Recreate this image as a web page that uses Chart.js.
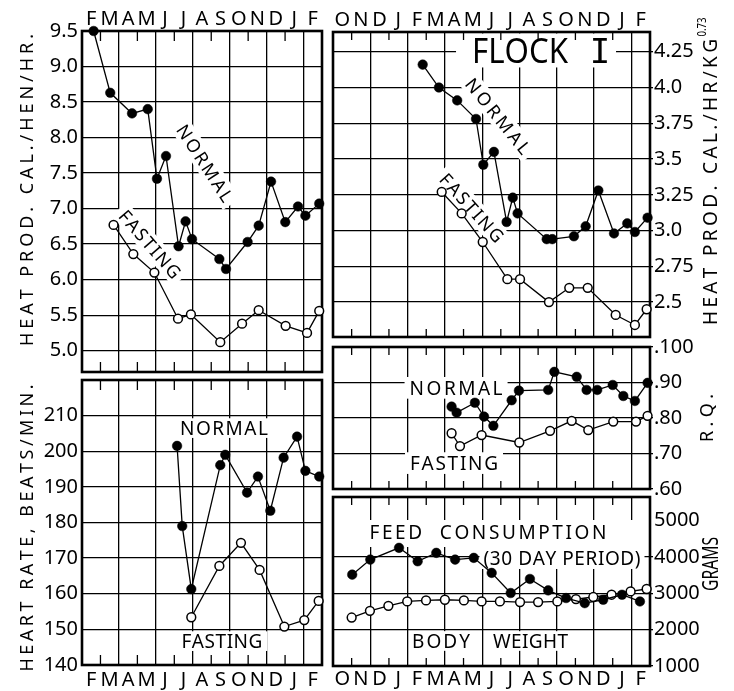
<!DOCTYPE html>
<html>
<head>
<meta charset="utf-8">
<script src="https://cdn.jsdelivr.net/npm/chart.js@4.4.1/dist/chart.umd.min.js"></script>
<style>
  html, body { margin: 0; padding: 0; background: #fff; }
  #wrap { position: relative; width: 734px; height: 691px; overflow: hidden; background: #fff; }
  #wrap canvas { position: absolute; left: 0; top: 0; }
</style>
</head>
<body>
<div id="wrap">
  <canvas id="hpHen" width="734" height="691"></canvas>
  <canvas id="heart" width="734" height="691"></canvas>
  <canvas id="hpKg" width="734" height="691"></canvas>
  <canvas id="rq" width="734" height="691"></canvas>
  <canvas id="feed" width="734" height="691"></canvas>
</div>
<script>
// Month letters along the time axes
const monthsShort = ['F','M','A','M','J','J','A','S','O','N','D','J','F'];
const monthsLong = ['O','N','D','J','F','M','A','M','J','J','A','S','O','N','D','J','F'];

// Heat production, cal/hen/hr  (x = months from the start of February)
const hpHenNormalMonth = [0.63,1.53,2.71,3.56,4.06,4.55,5.23,5.61,5.96,7.44,7.80,8.97,9.57,10.24,11.01,11.70,12.10,12.85];
const hpHenNormal      = [9.50,8.63,8.34,8.40,7.42,7.74,6.47,6.82,6.57,6.29,6.15,6.53,6.76,7.38,6.81,7.03,6.90,7.07];
const hpHenFastingMonth = [1.71,2.78,3.92,5.20,5.90,7.49,8.67,9.57,11.03,12.19,12.85];
const hpHenFasting      = [6.77,6.36,6.10,5.45,5.51,5.12,5.38,5.57,5.35,5.25,5.56];
const hpHenTicks  = [5.0,5.5,6.0,6.5,7.0,7.5,8.0,8.5,9.0,9.5];
const hpHenLabels = ['5.0','5.5','6.0','6.5','7.0','7.5','8.0','8.5','9.0','9.5'];

// Heart rate, beats/min
const heartNormalMonth = [5.15,5.43,5.92,7.49,7.76,8.94,9.53,10.20,10.92,11.65,12.10,12.85];
const heartNormal      = [201.5,179.0,161.3,196.1,199.0,188.4,192.9,183.3,198.2,204.1,194.5,192.9];
const heartFastingMonth = [5.92,7.44,8.61,9.62,10.96,12.04,12.82];
const heartFasting      = [153.4,167.8,174.3,166.7,150.8,152.6,158.0];
const heartTicks  = [140,150,160,170,180,190,200,210];
const heartLabels = ['140','150','160','170','180','190','200','210'];

// Heat production, cal/hr/kg^0.73  (x = months from the start of October)
const hpKgNormalMonth = [4.81,5.68,6.66,7.67,8.06,8.63,9.31,9.64,9.90,11.46,11.76,12.92,13.55,14.23,15.07,15.78,16.19,16.87];
const hpKgNormal      = [4.16,4.00,3.91,3.78,3.46,3.55,3.06,3.23,3.12,2.94,2.94,2.96,3.03,3.28,2.98,3.05,2.99,3.09];
const hpKgFastingMonth = [5.83,6.90,8.03,9.35,10.03,11.58,12.67,13.66,15.16,16.19,16.82];
const hpKgFasting      = [3.27,3.12,2.92,2.66,2.66,2.50,2.60,2.60,2.41,2.34,2.45];
const hpKgTicks  = [2.5,2.75,3.0,3.25,3.5,3.75,4.0,4.25];
const hpKgLabels = ['2.5','2.75','3.0','3.25','3.5','3.75','4.0','4.25'];

// Respiratory quotient
const rqNormalMonth = [6.36,6.63,7.61,8.10,8.60,9.58,9.97,11.54,11.87,13.07,13.60,14.17,15.00,15.57,16.19,16.87];
const rqNormal      = [0.832,0.815,0.843,0.804,0.778,0.850,0.877,0.879,0.930,0.916,0.879,0.879,0.893,0.862,0.848,0.899];
const rqFastingMonth = [6.36,6.81,7.97,9.99,11.64,12.80,13.69,15.03,16.25,16.87];
const rqFasting      = [0.757,0.721,0.752,0.731,0.764,0.792,0.766,0.790,0.790,0.806];
const rqTicks  = [0.6,0.7,0.8,0.9,1.0];
const rqLabels = ['.60','.70','.80','.90','.100'];

// Feed consumption (30 day period) and body weight, grams
const feedMonth = [1.03,2.00,3.54,4.54,5.54,6.55,7.55,8.51,9.53,10.56,11.54,12.50,13.50,14.49,15.50,16.46];
const feedGrams = [3514,3928,4251,3881,4113,3928,3975,3561,3008,3395,3080,2870,2729,2823,2960,2776];
const weightMonth = [1.00,1.98,2.97,3.98,4.99,6.00,7.02,7.97,8.95,10.03,11.00,12.03,13.03,13.96,14.94,15.96,16.82];
const weightGrams = [2334,2519,2657,2776,2804,2823,2804,2776,2776,2760,2760,2776,2842,2898,2961,3052,3119];
const gramTicks  = [1000,2000,3000,4000,5000];
const gramLabels = ['1000','2000','3000','4000','5000'];

const FONT = "'Noto Sans', 'DejaVu Sans', sans-serif";
const PAGE_W = 734, PAGE_H = 691, MONTH_ROW = 26;

// Draws a line of lettering fitted to a given width (spaced out, or condensed when too long),
// optionally on a white patch
function drawSpaced(ctx, text, cx, cy, angle, size, width, o = {}) {
  ctx.save();
  ctx.translate(cx, cy);
  ctx.rotate((angle || 0) * Math.PI / 180);
  ctx.font = `400 ${size}px ${o.family || FONT}`;
  const chars = Array.from(text);
  const ws = chars.map(c => ctx.measureText(c).width);
  const nat = ws.reduce((a, b) => a + b, 0);
  const w = width || nat;
  const cap = size * 0.72;
  if (o.bg) {
    const bw = o.boxW || (w + 2 * (o.padX ?? 5));
    const bh = o.boxH || (cap + 2 * (o.padY ?? 4));
    ctx.fillStyle = '#fff';
    ctx.fillRect(-bw / 2 + (o.boxDX || 0), -bh / 2 + (o.boxDY || 0), bw, bh);
  }
  let sx = 1, gap = 0;
  if (nat > w) sx = w / nat;
  else if (chars.length > 1) gap = (w - nat) / (chars.length - 1);
  ctx.fillStyle = '#000';
  ctx.textBaseline = 'alphabetic';
  ctx.textAlign = 'left';
  ctx.scale(sx, 1);
  let x = -w / 2 / sx;
  chars.forEach((c, i) => { ctx.fillText(c, x, cap / 2); x += ws[i] + gap; });
  ctx.restore();
}

// Frame, half-month tick marks, in-plot lettering and axis titles
const panelDeco = {
  id: 'panelDeco',
  beforeDatasetsDraw(chart, args, o) {
    const { ctx, chartArea: a, scales } = chart;
    const xs = scales.x, ys = scales.y;
    (o.notes || []).forEach(n => {
      drawSpaced(ctx, n.text, xs.getPixelForValue(n.x), ys.getPixelForValue(n.y),
                 n.angle, n.size, n.width, n);
    });
    ctx.save();
    ctx.strokeStyle = '#000';
    ctx.lineWidth = 1.3;
    for (let m = 1; m < xs.max; m += 2) {
      const px = xs.getPixelForValue(m);
      ctx.beginPath();
      ctx.moveTo(px, a.top); ctx.lineTo(px, a.top + o.tick);
      ctx.moveTo(px, a.bottom); ctx.lineTo(px, a.bottom - o.tick);
      ctx.stroke();
    }
    ctx.lineWidth = 2.6;
    ctx.strokeRect(a.left, a.top, a.right - a.left, a.bottom - a.top);
    ctx.restore();
  },
  afterDraw(chart, args, o) {
    (o.titles || []).forEach(t => drawSpaced(chart.ctx, t.text, t.cx, t.cy, t.angle, t.size, t.width, t));
  }
};

function series(xs, ys, open) {
  return {
    data: xs.map((x, i) => ({ x, y: ys[i] })),
    borderColor: '#000',
    borderWidth: 1.3,
    pointRadius: open ? 4.4 : 4.8,
    pointBorderWidth: open ? 1.5 : 0.5,
    pointBackgroundColor: open ? '#fff' : '#000',
    pointBorderColor: '#000',
    tension: 0,
    clip: false,
    xAxisID: 'x',
    yAxisID: 'y'
  };
}

function makePanel(id, p) {
  const nMonths = p.months.length;
  const leftAxis = p.ySide === 'left';
  const padding = {
    left: leftAxis ? 0 : p.area.l,
    right: leftAxis ? PAGE_W - p.area.r : 0,
    top: p.monthSide === 'top' ? p.area.t - MONTH_ROW : p.area.t,
    bottom: p.monthSide === 'bottom' ? PAGE_H - p.area.b - MONTH_ROW : PAGE_H - p.area.b
  };
  const scales = {
    x: {
      type: 'linear',
      position: p.monthSide === 'bottom' ? 'top' : 'bottom',
      min: 0, max: nMonths,
      afterBuildTicks: s => { s.ticks = Array.from({ length: nMonths + 1 }, (_, i) => ({ value: i })); },
      afterFit: s => { s.height = 0; },
      ticks: { display: false },
      grid: { color: c => (c.tick && c.tick.value % 2 === 0) ? '#000' : 'rgba(0,0,0,0)', lineWidth: 1.3, drawTicks: false },
      border: { display: false }
    },
    y: {
      type: 'linear',
      position: p.ySide,
      min: p.yMin, max: p.yMax,
      afterBuildTicks: s => { s.ticks = p.yTicks.map(v => ({ value: v })); },
      afterFit: s => { s.width = leftAxis ? p.area.l : PAGE_W - p.area.r; },
      ticks: {
        autoSkip: false,
        color: '#000',
        font: { family: FONT, size: 20 },
        padding: leftAxis ? 4 : 1,
        callback: (v, i) => p.yLabels[i]
      },
      grid: {
        color: c => (c.tick && p.yNoGrid && p.yNoGrid.includes(c.tick.value)) ? 'rgba(0,0,0,0)' : '#000',
        lineWidth: 1.3,
        drawTicks: !leftAxis,
        tickLength: 3
      },
      border: { display: false }
    }
  };
  if (p.monthSide) {
    scales.m = {
      type: 'category',
      labels: p.months,
      position: p.monthSide,
      offset: true,
      afterFit: s => { s.height = MONTH_ROW; },
      grid: { display: false, drawTicks: false },
      border: { display: false },
      ticks: { autoSkip: false, maxRotation: 0, color: '#000', font: { family: FONT, size: 20 }, padding: p.monthPad || 0 }
    };
  }
  return new Chart(document.getElementById(id), {
    type: 'line',
    data: { datasets: p.series },
    options: {
      responsive: false,
      animation: false,
      events: [],
      layout: { padding },
      plugins: {
        legend: { display: false },
        tooltip: { enabled: false },
        panelDeco: { tick: p.tick || 9, notes: p.notes, titles: p.titles }
      },
      scales
    },
    plugins: [panelDeco]
  });
}

// Heat production per hen
makePanel('hpHen', {
  area: { l: 82, t: 31, r: 322, b: 372 },
  months: monthsShort, monthSide: 'top',
  ySide: 'left', yMin: 4.7, yMax: 9.5, yTicks: hpHenTicks, yLabels: hpHenLabels,
  tick: 10,
  series: [series(hpHenNormalMonth, hpHenNormal, false), series(hpHenFastingMonth, hpHenFasting, true)],
  notes: [
    { text: 'NORMAL', x: 6.66, y: 7.64, angle: 57, size: 18, width: 88, bg: true },
    { text: 'FASTING', x: 3.68, y: 6.50, angle: 49, size: 18, width: 84, bg: true }
  ],
  titles: [
    { text: 'HEAT PROD. CAL./HEN/HR.', cx: 27, cy: 190, angle: -90, size: 18, width: 312 }
  ]
});

// Heart rate
makePanel('heart', {
  area: { l: 82, t: 380, r: 322, b: 665 },
  months: monthsShort, monthSide: 'bottom', monthPad: 3,
  ySide: 'left', yMin: 140, yMax: 220, yTicks: heartTicks, yLabels: heartLabels,
  tick: 10,
  series: [series(heartNormalMonth, heartNormal, false), series(heartFastingMonth, heartFasting, true)],
  notes: [
    { text: 'NORMAL', x: 7.69, y: 206.5, size: 19, width: 88, bg: true, padY: 3 },
    { text: 'FASTING', x: 7.58, y: 146.7, size: 19, width: 81, bg: true, padY: 3 }
  ],
  titles: [
    { text: 'HEART RATE, BEATS/MIN.', cx: 27, cy: 528, angle: -90, size: 18, width: 287 }
  ]
});

// Heat production per unit metabolic size
makePanel('hpKg', {
  area: { l: 333, t: 32, r: 650, b: 337 },
  months: monthsLong, monthSide: 'top',
  ySide: 'right', yMin: 2.256, yMax: 4.388, yTicks: hpKgTicks, yLabels: hpKgLabels,
  tick: 8,
  series: [series(hpKgNormalMonth, hpKgNormal, false), series(hpKgFastingMonth, hpKgFasting, true)],
  notes: [
    { text: 'FLOCK', x: 10.03, y: 4.259, size: 34, width: 96, bg: true, boxW: 160, boxH: 34, boxDX: 16 },
    { text: 'I', x: 14.32, y: 4.259, size: 34, family: "'DejaVu Sans Mono', monospace" },
    { text: 'NORMAL', x: 8.85, y: 3.80, angle: 51, size: 18, width: 92, bg: true },
    { text: 'FASTING', x: 7.45, y: 3.159, angle: 48, size: 18, width: 86, bg: true }
  ],
  titles: [
    { text: 'HEAT PROD. CAL./HR/KG', cx: 710, cy: 182, angle: -90, size: 19, width: 286 },
    { text: '0.73', cx: 702, cy: 27, angle: -90, size: 12, width: 19 }
  ]
});

// Respiratory quotient
makePanel('rq', {
  area: { l: 333, t: 347, r: 650, b: 489 },
  months: monthsLong, monthSide: null,
  ySide: 'right', yMin: 0.6, yMax: 1.0, yTicks: rqTicks, yLabels: rqLabels,
  tick: 8,
  series: [series(rqNormalMonth, rqNormal, false), series(rqFastingMonth, rqFasting, true)],
  notes: [
    { text: 'NORMAL', x: 6.6, y: 0.885, size: 19, width: 93, bg: true },
    { text: 'FASTING', x: 6.49, y: 0.673, size: 19, width: 88, bg: true }
  ],
  titles: [
    { text: 'R.Q.', cx: 707, cy: 418, angle: -90, size: 18, width: 48 }
  ]
});

// Feed consumption and body weight
makePanel('feed', {
  area: { l: 333, t: 497, r: 650, b: 666 },
  months: monthsLong, monthSide: 'bottom', monthPad: 1,
  ySide: 'right', yMin: 1000, yMax: 5650, yTicks: gramTicks, yLabels: gramLabels, yNoGrid: [5000],
  tick: 8,
  series: [series(feedMonth, feedGrams, false), series(weightMonth, weightGrams, true)],
  notes: [
    { text: 'FEED  CONSUMPTION', x: 8.31, y: 4687, size: 19, width: 237, bg: true, boxW: 306, boxH: 27, boxDX: 4, boxDY: 1.5 },
    { text: '(30 DAY PERIOD)', x: 12.28, y: 3972, size: 19, width: 157, bg: true, boxW: 165, boxH: 22 },
    { text: 'BODY', x: 5.79, y: 1688, size: 19, width: 58, bg: true, padX: 3, padY: 3 },
    { text: 'WEIGHT', x: 10.59, y: 1688, size: 19, width: 75, bg: true, padX: 3, padY: 3 }
  ],
  titles: [
    { text: 'GRAMS', cx: 710, cy: 564, angle: -90, size: 21, width: 54 }
  ]
});
</script>
</body>
</html>
